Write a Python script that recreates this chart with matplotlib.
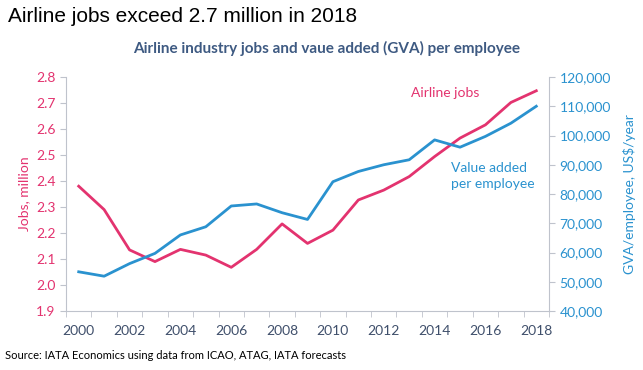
import matplotlib
matplotlib.use('Agg')
import matplotlib.pyplot as plt
from matplotlib.ticker import FuncFormatter

years = list(range(2000, 2019))
jobs = [2.38, 2.29, 2.135, 2.09, 2.137, 2.115, 2.068, 2.137, 2.235, 2.16,
        2.211, 2.327, 2.365, 2.417, 2.494, 2.565, 2.616, 2.702, 2.747]
gva = [53400, 51900, 56200, 59700, 66000, 68800, 75900, 76600, 73600, 71300,
       84200, 87700, 90000, 91700, 98500, 96000, 99700, 104200, 110000]

pink = '#E3336F'
blue = '#2A92CF'
grey = '#BFC3CC'
plt.rcParams['font.family'] = ['Lato', 'DejaVu Sans']

fig = plt.figure(figsize=(6.43, 3.70), dpi=100)
ax1 = fig.add_axes([66 / 643, 1 - 311 / 370, (549 - 66) / 643, (311 - 77) / 370])
ax2 = ax1.twinx()

ax1.plot(years, jobs, color=pink, linewidth=2)
ax2.plot(years, gva, color=blue, linewidth=2)

ax1.set_xlim(1999.5, 2018.5)
ax1.set_ylim(1.9, 2.8)
ax2.set_ylim(40000, 120000)
ax1.set_xticks(range(2000, 2019, 2))
ax1.set_xticks([y + 0.5 for y in range(1999, 2019)], minor=True)
ax1.tick_params(axis='x', which='major', length=0, pad=10, labelsize=10, labelcolor='#3F4F6B')
ax1.tick_params(axis='x', which='minor', length=4, color=grey)
ax1.set_yticks([1.9 + 0.1 * i for i in range(10)])
ax1.yaxis.set_major_formatter(FuncFormatter(lambda v, p: '{:.1f}'.format(v)))
ax1.tick_params(axis='y', length=4, color=grey, labelsize=10, labelcolor=pink)
ax2.set_yticks(range(40000, 120001, 10000))
ax2.yaxis.set_major_formatter(FuncFormatter(lambda v, p: '{:,.0f}'.format(v)))
ax2.tick_params(axis='y', length=4, color=grey, labelsize=10, labelcolor=blue)

for ax in (ax1, ax2):
    ax.spines['top'].set_visible(False)
    for s in ('left', 'right', 'bottom'):
        ax.spines[s].set_color(grey)
ax1.spines['right'].set_visible(False)
ax2.spines['left'].set_visible(False)
ax2.spines['bottom'].set_visible(False)

ax1.set_ylabel('Jobs, million', color=pink, fontsize=10, labelpad=4)
ax2.set_ylabel('GVA/employee, US$/year', color=blue, fontsize=10, labelpad=9)

ax1.text(2013.07, 2.76, 'Airline jobs', color=pink, fontsize=10, va='top')
ax1.text(2014.65, 2.475, 'Value added\nper employee', color=blue, fontsize=10, linespacing=1.4, va='top')

fig.text(0.012, 0.955, 'Airline jobs exceed 2.7 million in 2018', fontsize=15,
         family=['Liberation Sans Narrow', 'Liberation Sans', 'DejaVu Sans'], va='center')
fig.text(0.508, 0.868, 'Airline industry jobs and vaue added (GVA) per employee', fontsize=11,
         fontweight='bold', color='#3E5A82', ha='center', va='center')
fig.text(0.008, 0.04, 'Source: IATA Economics using data from ICAO, ATAG, IATA forecasts', fontsize=8,
         va='center')

fig.savefig('out.png', dpi=100)
